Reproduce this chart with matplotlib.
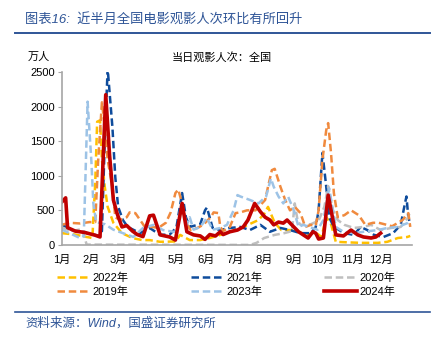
import matplotlib
matplotlib.use('Agg')
import matplotlib.pyplot as plt
from matplotlib.lines import Line2D

plt.rcParams['font.family'] = ['Liberation Sans', 'Noto Sans CJK SC']
plt.rcParams['axes.unicode_minus'] = False

# day of year -> 当日观影人次 (万人)
d2022 = [0, 14, 24, 32, 35, 37, 40, 42, 45, 48, 54, 63, 74, 84, 92, 103, 119, 124, 134, 145,
         155, 166, 176, 187, 195, 206, 212, 216, 223, 230, 241, 252, 258, 265, 272, 277, 282, 287, 295, 313,
         331, 341, 352, 362, 365]
v2022 = [170, 150, 120, 100, 900, 1780, 1800, 1230, 840, 550, 320, 170, 100, 70, 70, 45, 50, 145, 70, 70,
         100, 145, 190, 245, 290, 360, 450, 550, 320, 215, 215, 170, 145, 190, 115, 400, 300, 45, 40, 30,
         30, 45, 100, 115, 130]

d2021 = [0, 8, 19, 29, 40, 42, 45, 48, 53, 56, 59, 64, 69, 82, 92, 103, 113, 120, 126, 130,
         134, 145, 150, 152, 158, 166, 176, 187, 197, 208, 218, 229, 239, 250, 261, 266, 269, 273, 277, 280,
         285, 296, 306, 313, 320, 327, 337, 347, 355, 358, 361, 363, 365]
v2021 = [300, 220, 200, 160, 130, 200, 1500, 2550, 1700, 980, 550, 360, 260, 170, 245, 145, 150, 250, 750, 400,
         260, 300, 500, 540, 245, 215, 245, 260, 215, 290, 190, 245, 215, 170, 170, 260, 500, 1330, 840, 400,
         260, 170, 145, 260, 215, 145, 115, 170, 290, 500, 700, 400, 300]

d2020 = [0, 11, 21, 24, 26, 197, 204, 212, 223, 233, 241, 244, 247, 250, 261, 269, 275, 279, 284, 289,
         296, 306, 316, 324, 334, 345, 355, 363, 365]
v2020 = [250, 200, 230, 100, 5, 0, 30, 100, 145, 170, 200, 600, 350, 290, 300, 350, 550, 850, 500, 360,
         290, 245, 260, 290, 215, 245, 260, 400, 500]

d2019 = [0, 8, 19, 29, 35, 38, 42, 45, 48, 53, 56, 61, 68, 71, 77, 82, 87, 95, 101, 109,
         114, 119, 122, 126, 130, 135, 142, 148, 156, 159, 164, 166, 169, 176, 182, 187, 194, 203, 213, 216,
         220, 223, 229, 234, 239, 244, 250, 255, 261, 266, 269, 273, 277, 279, 282, 285, 289, 296, 303, 311,
         318, 326, 332, 346, 357, 363, 365]
v2019 = [290, 320, 310, 330, 330, 1200, 2060, 1700, 1230, 840, 400, 360, 400, 470, 460, 360, 260, 260, 245, 320,
         470, 750, 800, 600, 320, 215, 245, 290, 400, 470, 460, 260, 200, 260, 460, 470, 500, 500, 650, 840,
         1080, 1100, 840, 650, 500, 550, 460, 260, 290, 280, 500, 1230, 1660, 1760, 1330, 750, 400, 430, 500, 430,
         290, 320, 320, 270, 360, 460, 260]

d2023 = [0, 8, 19, 23, 27, 31, 33, 36, 45, 54, 64, 75, 85, 96, 106, 117, 121, 125, 131, 134,
         138, 145, 152, 158, 166, 173, 180, 184, 187, 197, 206, 214, 219, 222, 227, 232, 237, 243, 248, 253,
         261, 268, 274, 280, 287, 295, 306, 316, 331, 341, 352, 362, 365]
v2023 = [220, 170, 100, 130, 2070, 1200, 600, 330, 300, 220, 170, 115, 245, 290, 215, 190, 200, 600, 290, 400,
         220, 260, 390, 220, 245, 290, 500, 720, 700, 650, 600, 700, 960, 840, 700, 600, 700, 500, 260, 290,
         250, 220, 360, 820, 260, 190, 170, 190, 215, 245, 260, 315, 360]

d2024 = [0, 4, 6, 14, 24, 35, 40, 46, 50, 54, 58, 63, 68, 74, 79, 85, 92, 96, 103, 113,
         119, 126, 131, 138, 145, 150, 155, 161, 166, 169, 176, 184, 190, 195, 202, 208, 213, 218, 222, 227,
         232, 236, 243, 248, 253, 258, 263, 266, 269, 274, 279, 287, 295, 303, 310, 316, 324, 329, 334]
v2024 = [620, 680, 250, 200, 180, 140, 115, 2170, 1300, 650, 450, 260, 280, 200, 150, 120, 420, 430, 145, 115,
         70, 600, 190, 145, 130, 80, 150, 130, 190, 150, 190, 215, 260, 360, 600, 480, 400, 360, 290, 330,
         315, 360, 260, 190, 145, 100, 190, 170, 85, 100, 720, 145, 130, 215, 145, 115, 100, 115, 170]

month_days = [0, 31, 59, 90, 120, 151, 181, 212, 243, 273, 304, 334]
month_labels = ['%d月' % m for m in range(1, 13)]

blue = '#2F5597'

fig = plt.figure(figsize=(4.48, 3.44), dpi=100)
ax = fig.add_axes([0.138, 0.288, 0.782, 0.503])

dash = (3.0, 1.5)
ax.plot(d2022, v2022, color='#FFC000', lw=1.8, dashes=dash, label='2022年')
ax.plot(d2021, v2021, color='#0E4C9C', lw=1.8, dashes=dash, label='2021年')
ax.plot(d2020, v2020, color='#BFBFBF', lw=1.8, dashes=dash, label='2020年')
ax.plot(d2019, v2019, color='#F08A3E', lw=1.8, dashes=dash, label='2019年')
ax.plot(d2023, v2023, color='#9DC3E6', lw=1.8, dashes=dash, label='2023年')
ax.plot(d2024, v2024, color='#C00000', lw=2.6, label='2024年')

ax.set_xlim(0, 367)
ax.set_ylim(0, 2500)
ax.set_yticks([0, 500, 1000, 1500, 2000, 2500])
ax.set_xticks(month_days)
ax.set_xticklabels(month_labels)
ax.tick_params(axis='y', length=3, color='#A6A6A6', labelsize=8, pad=2)
ax.tick_params(axis='x', length=0, labelsize=8, pad=7)
for s in ['top', 'right']:
    ax.spines[s].set_visible(False)
for s in ['left', 'bottom']:
    ax.spines[s].set_color('#A6A6A6')
    ax.spines[s].set_linewidth(1.2)

h, l = ax.get_legend_handles_labels()
order = [0, 3, 1, 4, 2, 5]
fig.legend([h[i] for i in order], [l[i] for i in order], ncol=3, frameon=False,
           loc='center', bbox_to_anchor=(0.505, 0.172), fontsize=8,
           handlelength=2.9, columnspacing=5.6, handletextpad=0.3, labelspacing=0.35)

fig.text(0.056, 0.945, '图表16:  近半月全国电影观影人次环比有所回升', color=blue,
         fontsize=9.5, style='italic', va='center', ha='left')
fig.add_artist(Line2D([0.034, 0.96], [0.904, 0.904], color=blue, lw=1.4))
fig.text(0.062, 0.834, '万人', fontsize=8, va='center', ha='left')
fig.text(0.495, 0.834, '当日观影人次：全国', fontsize=8, va='center', ha='center')
fig.add_artist(Line2D([0.034, 0.96], [0.093, 0.093], color=blue, lw=1.2))
fig.text(0.056, 0.06, '资料来源：Wind，国盛证券研究所', color=blue,
         fontsize=9, style='italic', va='center', ha='left')

fig.savefig('out.png', dpi=100)
